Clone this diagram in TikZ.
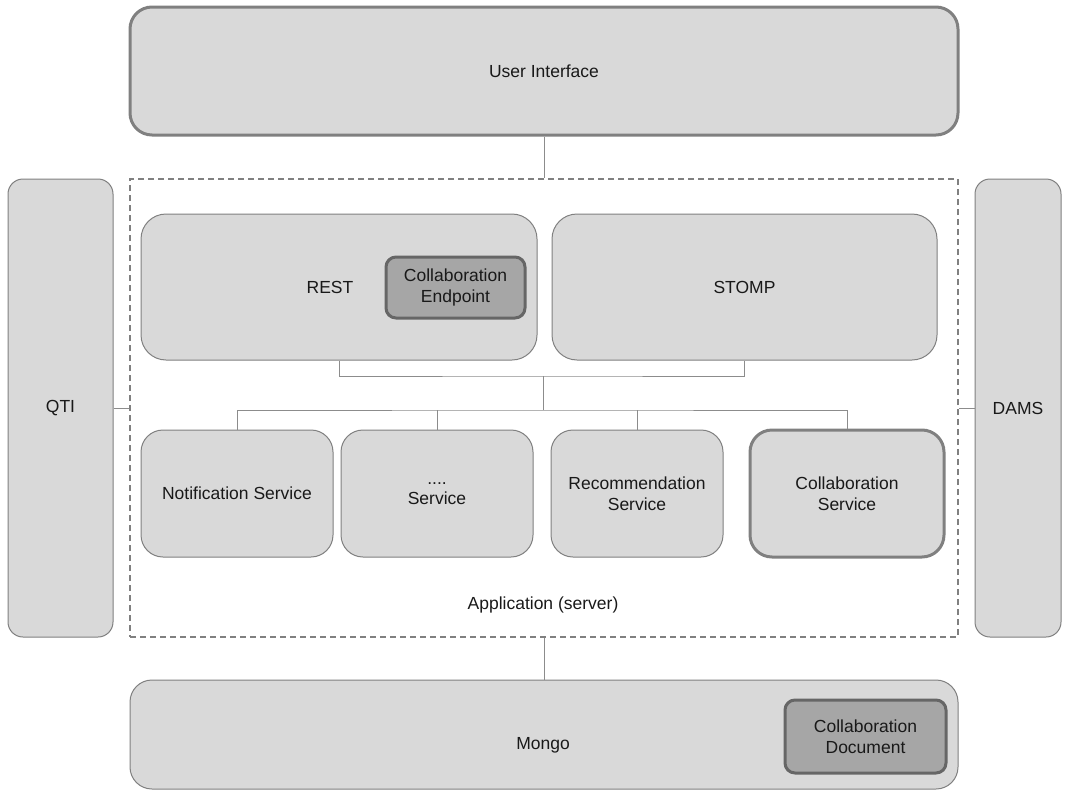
\documentclass[tikz,border=0pt]{standalone}
\usepackage{fontspec}
\setmainfont{Liberation Sans}
\definecolor{boxfill}{HTML}{D9D9D9}
\definecolor{boxline}{HTML}{808080}
\definecolor{darkfill}{HTML}{A6A6A6}
\definecolor{darkline}{HTML}{666666}
\definecolor{wire}{HTML}{8C8C8C}
\begin{document}
\begin{tikzpicture}[x=1pt,y=-1pt,
  every node/.style={font=\fontsize{17.5}{20.5}\selectfont, text=black!90, align=center, inner sep=0pt},
  thinbox/.style={draw=boxline, fill=boxfill, line width=1pt, rounded corners=#1},
  thinbox/.default=22pt,
  thickbox/.style={draw=boxline, fill=boxfill, line width=3pt, rounded corners=#1},
  thickbox/.default=22pt,
  darkbox/.style={draw=darkline, fill=darkfill, line width=3pt, rounded corners=10pt},
  container/.style={draw=boxline, line width=1.3pt, dash pattern=on 6pt off 4pt},
  wireline/.style={draw=wire, line width=1pt}]
\useasboundingbox (0,0) rectangle (1069,790);

% top layer
\node[thickbox, minimum width=828pt, minimum height=128pt] (ui) at (544,71) {User Interface};

% application container
\node[container, minimum width=828pt, minimum height=458pt] (app) at (544,408) {};
\node (applabel) at (543,605) {Application (server)};

% side systems
\node[thinbox=15pt, minimum width=105pt, minimum height=458pt] (qti) at (60.5,408) {QTI};
\node[thinbox=15pt, minimum width=86pt, minimum height=458pt] (dams) at (1018,408) {DAMS};

% endpoints
\node[thinbox=25pt, minimum width=396pt, minimum height=146pt] (rest) at (339,287) {};
\node (restlabel) at (330,287) {REST};
\node[darkbox, minimum width=139pt, minimum height=61pt] (endpoint) at (455.5,287.5) {Collaboration\\Endpoint};
\node[thinbox=25pt, minimum width=385pt, minimum height=146pt] (stomp) at (744.5,287) {STOMP};

% services
\node[thinbox, minimum width=192pt, minimum height=127pt] (notif) at (237,493.5) {Notification Service};
\node[thinbox, minimum width=192pt, minimum height=127pt] (other) at (437,493.5) {....\\Service};
\node[thinbox, minimum width=172pt, minimum height=127pt] (recom) at (637,493.5) {Recommendation\\Service};
\node[thickbox, minimum width=194pt, minimum height=127pt] (collab) at (847,493.5) {Collaboration\\Service};

% storage
\node[thinbox, minimum width=828pt, minimum height=109pt] (mongo) at (544,734.5) {};
\node (mongolabel) at (543,745) {Mongo};
\node[darkbox, minimum width=161pt, minimum height=73pt] (doc) at (865.5,736.5) {Collaboration\\Document};

% wiring
\coordinate (join) at (543,376);
\coordinate (bus) at (543,410);
\draw[wireline] (ui.south) -- (ui.south |- app.north);
\draw[wireline] (app.south) -- (app.south |- mongo.north);
\draw[wireline] (qti.east) -- (app.west);
\draw[wireline] (dams.west) -- (app.east);
\draw[wireline] (rest.south) |- (join) -| (stomp.south);
\draw[wireline] (join) -- (bus);
\draw[wireline] (notif.north) |- (bus) -| (collab.north);
\draw[wireline] (other.north) -- (other.north |- bus);
\draw[wireline] (recom.north) -- (recom.north |- bus);
\end{tikzpicture}
\end{document}
